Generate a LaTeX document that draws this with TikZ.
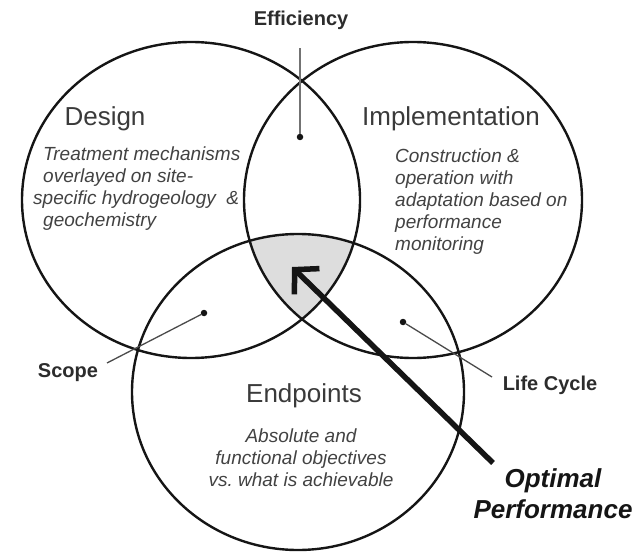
\documentclass[tikz,border=0pt]{standalone}
\usepackage{fontspec}
\setmainfont{Liberation Sans}
\usetikzlibrary{arrows.meta}
\definecolor{ink}{HTML}{151515}
\definecolor{labelgray}{HTML}{3A3A3A}
\definecolor{bodygray}{HTML}{424242}
\definecolor{leadgray}{HTML}{4A4A4A}
\definecolor{sweetfill}{HTML}{DDDDDD}
\frenchspacing
\begin{document}
\begin{tikzpicture}[x=1pt,y=-1pt,
  ring/.style={draw=ink, line width=2.4pt},
  title/.style={inner sep=0pt, anchor=base, text=labelgray, font=\fontsize{26}{30}\selectfont},
  body/.style={inner sep=0pt, text=bodygray, font=\fontsize{19}{22}\selectfont\itshape},
  tag/.style={inner sep=0pt, anchor=base, text=ink!90, font=\fontsize{20}{24}\selectfont\bfseries},
  dot/.style={circle, fill=ink, inner sep=0pt, minimum size=6.5pt},
  leader/.style={draw=leadgray, line width=1.3pt},
  bigarrow/.style={draw=ink, line width=5.5pt, -{Straight Barb[length=17pt,width=36pt]}},
]
\useasboundingbox (0,0) rectangle (639,553);

% shared region of all three domains
\begin{scope}
  \clip (191,200) ellipse [x radius=169pt, y radius=158pt];
  \clip (413,200) ellipse [x radius=169pt, y radius=158pt];
  \fill[sweetfill] (298,392) ellipse [x radius=166pt, y radius=158pt];
\end{scope}

% the three domains
\path[ring] (191,200) ellipse [x radius=169pt, y radius=158pt];
\path[ring] (413,200) ellipse [x radius=169pt, y radius=158pt];
\path[ring] (298,392) ellipse [x radius=166pt, y radius=158pt];

% domain titles
\node[title] (design) at (105,126) {Design};
\node[title] (impl) at (451,126) {Implementation};
\node[title] (endp) at (304,402) {Endpoints};

% domain descriptions
\node[body, anchor=north west, align=left] (designtxt) at (33,147)
  {\hspace*{10pt}Treatment mechanisms\\
   \hspace*{10pt}overlayed on site-\\
   specific hydrogeology\ \ \&\\
   \hspace*{10pt}geochemistry};
\node[body, anchor=north west, align=left] (impltxt) at (395,149)
  {Construction \&\\ operation with\\ adaptation based on\\ performance\\ monitoring};
\node[body, anchor=north, align=center] (endptxt) at (301,429)
  {Absolute and\\ functional objectives\\ vs. what is achievable};

% pairwise overlaps and their leaders
\node[dot] (effdot) at (300,137) {};
\coordinate (efftop) at (300,48);
\draw[leader, draw=black!55] (effdot) -- (efftop);
\node[tag] (eff) at (301,26) {Efficiency};

\node[dot] (scopedot) at (204,313) {};
\coordinate (scopeend) at (107,363);
\draw[leader] (scopedot) -- (scopeend);
\node[tag] (scope) at (68,377) {Scope};

\node[dot] (lifedot) at (403,322) {};
\coordinate (lifeend) at (492,377);
\draw[leader] (lifedot) -- (lifeend);
\node[tag] (life) at (550,390) {Life Cycle};

% optimal performance pointer
\node[inner sep=0pt, anchor=north, align=center, text=ink,
      font=\fontsize{26}{31}\selectfont\bfseries\itshape] (optimal) at (553,468)
  {Optimal\\ Performance};
\coordinate (tail) at (493,463);
\coordinate (tip) at (292,267);
\draw[bigarrow] (tail) -- (tip);
\end{tikzpicture}
\end{document}
